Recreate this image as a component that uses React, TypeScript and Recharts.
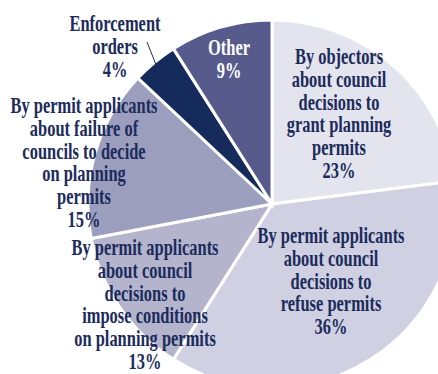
import React from 'react'
import { PieChart, Pie, Cell } from 'recharts'

// Appeal categories, clockwise from 12 o'clock
const categories = [
  'By objectors about council decisions to grant planning permits',
  'By permit applicants about council decisions to refuse permits',
  'By permit applicants about council decisions to impose conditions on planning permits',
  'By permit applicants about failure of councils to decide on planning permits',
  'Enforcement orders',
  'Other',
]
const shares = [23, 36, 13, 15, 4, 9]

// Label text split into lines as set on the page
const labelLines = [
  ['By objectors', 'about council', 'decisions to', 'grant planning', 'permits'],
  ['By permit applicants', 'about council', 'decisions to', 'refuse permits'],
  ['By permit applicants', 'about council', 'decisions to', 'impose conditions', 'on planning permits'],
  ['By permit applicants', 'about failure of', 'councils to decide', 'on planning', 'permits'],
  ['Enforcement', 'orders'],
  ['Other'],
]

const fills = ['#e4e4ee', '#cfd0e1', '#b4b5cd', '#9c9ebe', '#142b5b', '#565b8b']
const INK = '#1c2b5b'

// where each label block sits (centre x, first baseline)
const labelPos = [
  { x: 339, y: 64, color: INK },
  { x: 331, y: 243, color: INK },
  { x: 145, y: 255, color: INK },
  { x: 84, y: 113, color: INK },
  { x: 115, y: 31, color: INK },
  { x: 229, y: 55, color: '#ffffff' },
]
const LINE = 22.8

const data = categories.map((name, i) => ({ name, value: shares[i] }))

const CX = 267
const CY = 199
const R = 184
const RAD = Math.PI / 180

function renderLabel(props: any) {
  const { index, midAngle } = props
  const pos = labelPos[index]
  const lines = [...labelLines[index], `${shares[index]}%`]
  let leader = null
  if (index === 4) {
    const r = R - 10
    const x1 = CX + r * Math.cos(-midAngle * RAD)
    const y1 = CY + r * Math.sin(-midAngle * RAD)
    leader = <line x1={x1} y1={y1} x2={147} y2={42} stroke={INK} strokeWidth={1} />
  }
  return (
    <g key={`lbl-${index}`}>
      {leader}
      <text
        transform={`translate(${pos.x},${pos.y}) scale(0.715,1)`}
        textAnchor="middle"
        fill={pos.color}
        fontFamily="'Liberation Serif', 'DejaVu Serif', serif"
        fontWeight={700}
        fontSize={23}
      >
        {lines.map((l, j) => (
          <tspan key={j} x={0} y={j * LINE}>{l}</tspan>
        ))}
      </text>
    </g>
  )
}

export default function App() {
  return (
    <div style={{ position: 'absolute', left: 0, top: 0, width: 438, height: 374, background: '#fff' }}>
      <PieChart width={438} height={374}>
        <Pie
          data={data}
          dataKey="value"
          nameKey="name"
          cx={CX}
          cy={CY}
          outerRadius={R}
          startAngle={90}
          endAngle={-270}
          stroke="#ffffff"
          strokeWidth={3}
          label={renderLabel}
          labelLine={false}
          isAnimationActive={false}
        >
          {data.map((d, i) => (
            <Cell key={d.name} fill={fills[i]} />
          ))}
        </Pie>
      </PieChart>
    </div>
  )
}
